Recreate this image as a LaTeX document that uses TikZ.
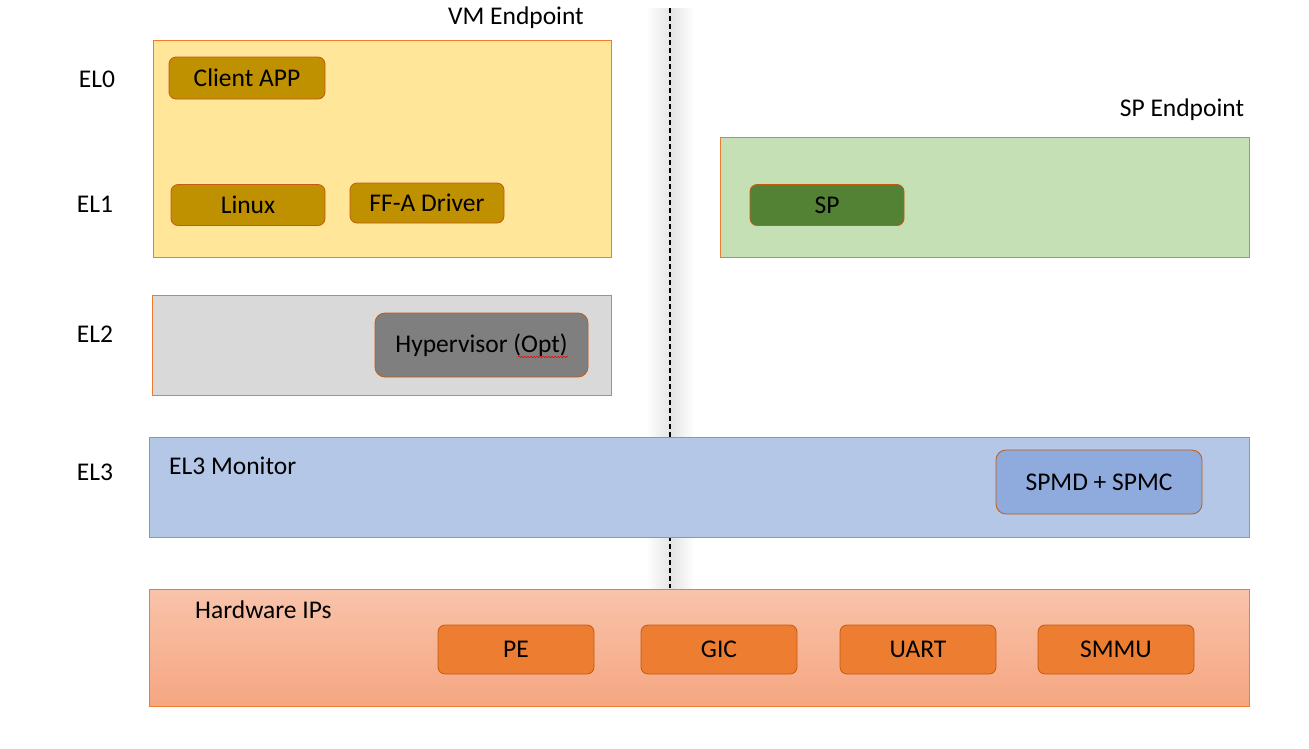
\documentclass[tikz,border=0pt]{standalone}
\usepackage{fontspec}
\setmainfont{Carlito}
\usetikzlibrary{decorations.pathmorphing}
\definecolor{orng}{HTML}{ED7D31}
\definecolor{yel}{HTML}{FFE699}
\definecolor{gold}{HTML}{BF9000}
\definecolor{lgreen}{HTML}{C5E0B4}
\definecolor{dgreen}{HTML}{548235}
\definecolor{lgray}{HTML}{D9D9D9}
\definecolor{dgray}{HTML}{7F7F7F}
\definecolor{lblue}{HTML}{B4C7E7}
\definecolor{mblue}{HTML}{8FAADC}
\definecolor{hwtop}{HTML}{F8C3AA}
\definecolor{hwbot}{HTML}{F5A681}
\definecolor{boxedge}{HTML}{C55A11}
\tikzset{
  txt/.style={font=\fontsize{25.5}{29}\selectfont, text=black, inner sep=0pt},
  layer/.style={draw=orng, line width=1pt},
  inner/.style={draw=boxedge, line width=0.8pt, rounded corners=7pt},
}
\begin{document}
\begin{tikzpicture}[x=1pt,y=-1pt]
\useasboundingbox (0,0) rectangle (1309,748);
\fill[white] (0,0) rectangle (1309,748);
% shadow of divider
\shade[left color=white, right color=black!10, draw=none] (646,8) rectangle (670,588);
\shade[left color=black!11, right color=white, draw=none] (670,8) rectangle (694,588);
\coordinate (dtop) at (670,8);
\coordinate (dbot) at (670,588);
\draw[black, line width=1.1pt, dash pattern=on 5pt off 3pt] (dtop) -- (dbot);

% level labels
\node[txt] (el0) at (97,79) {EL0};
\node[txt] (el1) at (95,204) {EL1};
\node[txt] (el2) at (95,334) {EL2};
\node[txt] (el3) at (95,472) {EL3};

% VM endpoint
\node[txt] (vmep) at (516,18) {VM Endpoint};
\draw[layer, fill=yel] (153,40) rectangle (611,257);
\node[inner, fill=gold, minimum width=156pt, minimum height=42pt, txt] (client) at (247,78) {Client APP};
\node[inner, fill=gold, minimum width=154pt, minimum height=41pt, txt] (linux) at (248,205) {Linux};
\node[inner, fill=gold, minimum width=154pt, minimum height=40pt, txt] (ffa) at (427,203) {FF-A Driver};

% SP endpoint
\node[txt] (spep) at (1182,110) {SP Endpoint};
\draw[layer, fill=lgreen] (720,137) rectangle (1249,257);
\node[inner, fill=dgreen, minimum width=154pt, minimum height=41pt, txt] (sp) at (827,205) {SP};

% EL2
\draw[layer, fill=lgray] (152,295) rectangle (611,395);
\node[inner, fill=dgray, minimum width=213pt, minimum height=64pt, rounded corners=10pt, txt] (hyp) at (481.5,345) {Hypervisor (Opt)};
\coordinate (sq1) at (518,357);
\coordinate (sq2) at (568,357);
\draw[red, line width=0.5pt, decorate, decoration={snake, amplitude=0.8pt, segment length=3pt}] (sq1) -- (sq2);

% EL3
\draw[layer, fill=lblue] (149,437) rectangle (1249,537);
\node[txt, anchor=west] (mon) at (169,466) {EL3 Monitor};
\node[inner, fill=mblue, minimum width=206pt, minimum height=64pt, rounded corners=10pt, txt] (spmd) at (1099,482) {SPMD + SPMC};

% Hardware
\shade[top color=hwtop, bottom color=hwbot] (149,589) rectangle (1249,706);
\draw[layer] (149,589) rectangle (1249,706);
\node[txt, anchor=west] (hw) at (195,610) {Hardware IPs};
\node[inner, fill=orng, minimum width=156pt, minimum height=49pt, txt] (pe) at (516,649.5) {PE};
\node[inner, fill=orng, minimum width=156pt, minimum height=49pt, txt] (gic) at (719,649.5) {GIC};
\node[inner, fill=orng, minimum width=156pt, minimum height=49pt, txt] (uart) at (918,649.5) {UART};
\node[inner, fill=orng, minimum width=156pt, minimum height=49pt, txt] (smmu) at (1116,649.5) {SMMU};
\end{tikzpicture}
\end{document}
